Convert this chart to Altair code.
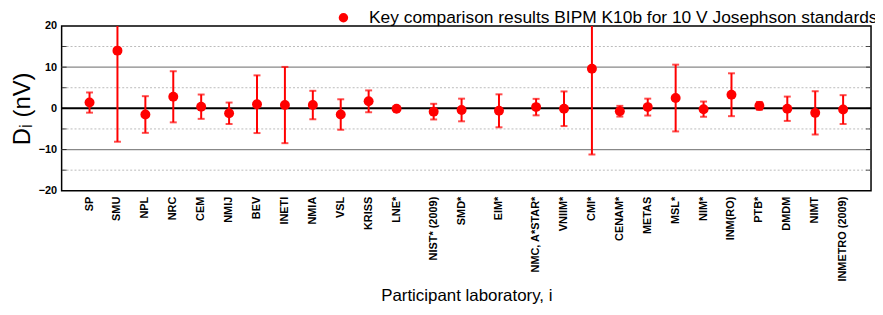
import altair as alt
import pandas as pd

labs = ["SP", "SMU", "NPL", "NRC", "CEM", "NMIJ", "BEV", "INETI", "NMIA", "VSL", "KRISS", "LNE*",
        "NIST* (2009)", "SMD*", "EIM*", "NMC, A*STAR*", "VNIIM*", "CMI*", "CENAM*", "METAS", "MSL*",
        "NIM*", "INM(RO)", "PTB*", "DMDM", "NIMT", "INMETRO (2009)"]
slot = [1, 2, 3, 4, 5, 6, 7, 8, 9, 10, 11, 12, 13.33, 14.33, 15.67, 17, 18, 19, 20, 21, 22, 23, 24, 25, 26, 27, 28]
D = [1.4, 14.0, -1.5, 2.8, 0.4, -1.2, 1.0, 0.8, 0.8, -1.5, 1.7, -0.1, -0.8, -0.4, -0.6, 0.3, -0.1, 9.6,
     -0.7, 0.3, 2.5, -0.2, 3.3, 0.6, -0.1, -1.1, -0.3]
U = [2.45, 22.1, 4.45, 6.2, 2.95, 2.6, 7.0, 9.25, 3.45, 3.7, 2.65, 0.2, 1.9, 2.75, 4.0, 2.0, 4.2, 20.8,
     1.3, 2.05, 8.1, 1.85, 5.2, 0.95, 2.95, 5.25, 3.5]
series = "Key comparison results BIPM K10b for 10 V Josephson standards"

minor_grid = [-15, -5, 5, 15]
major_grid = [-10, 10]
zero_line = [0]
tick_vals = [-15, -10, -5, 0, 5, 10, 15]
label_vals = [-20, -10, 0, 10, 20]
ymin, ymax = -20, 20

df = pd.DataFrame({"lab": labs, "slot": slot, "D": D, "U": U})
df["lo"] = [max(d - u, ymin) for d, u in zip(D, U)]
df["hi"] = [min(d + u, ymax) for d, u in zip(D, U)]
df["series"] = series
df["lo_cap"] = [d - u if d - u > ymin else None for d, u in zip(D, U)]
df["hi_cap"] = [d + u if d + u < ymax else None for d, u in zip(D, U)]

W, H = 815, 166
FONT = "Liberation Sans"

xs = alt.Scale(domain=[0, 29], nice=False, zero=False)
ys = alt.Scale(domain=[ymin, ymax], nice=False, zero=False)

base = alt.Chart(df)

x_enc = alt.X("slot:Q", scale=xs,
              axis=alt.Axis(labels=False, ticks=False, domain=False, grid=False,
                            title="Participant laboratory, i", titleFont=FONT,
                            titleFontSize=17, titleFontWeight="normal", titleColor="black",
                            titlePadding=97))

grid_minor = alt.Chart(pd.DataFrame({"v": minor_grid})).mark_rule(
    color="#bbbbbb", strokeDash=[2, 2], strokeWidth=1).encode(
    y=alt.Y("v:Q", scale=ys))
grid_major = alt.Chart(pd.DataFrame({"v": major_grid})).mark_rule(
    color="#888888", strokeWidth=1.2).encode(y=alt.Y("v:Q", scale=ys))
zero = alt.Chart(pd.DataFrame({"v": zero_line})).mark_rule(
    color="black", strokeWidth=2).encode(y=alt.Y("v:Q", scale=ys))

yaxis = alt.Axis(values=label_vals, grid=False, ticks=False,
                 domain=False, labelFont=FONT, labelFontSize=11, labelFontWeight="bold",
                 labelColor="black", labelPadding=5,
                 title="Dᵢ (nV)", titleFont=FONT, titleFontSize=24,
                 titleFontWeight="normal", titleColor="black", titlePadding=4)

errbars = base.mark_rule(color="#ff0000", strokeWidth=2, clip=True).encode(
    x=x_enc,
    y=alt.Y("lo:Q", scale=ys, axis=yaxis),
    y2="hi:Q")
cap_hi = base.mark_tick(color="#ff0000", thickness=2, size=7, orient="horizontal").encode(
    x=alt.X("slot:Q", scale=xs), y=alt.Y("hi_cap:Q", scale=ys))
cap_lo = base.mark_tick(color="#ff0000", thickness=2, size=7, orient="horizontal").encode(
    x=alt.X("slot:Q", scale=xs), y=alt.Y("lo_cap:Q", scale=ys))
points = base.mark_point(filled=True, opacity=1, size=100, shape="circle").encode(
    x=alt.X("slot:Q", scale=xs),
    y=alt.Y("D:Q", scale=ys),
    color=alt.Color("series:N", scale=alt.Scale(range=["#ff0000"]),
                    legend=alt.Legend(title=None, orient="none", legendX=275, legendY=-17,
                                      labelFont=FONT, labelFontSize=17.5, labelColor="black",
                                      labelOffset=17,
                                      symbolSize=90, symbolType="circle", labelLimit=700,
                                      symbolStrokeWidth=0)))

tdf = pd.DataFrame({"v": tick_vals})
right_ticks = alt.Chart(tdf).mark_tick(
    color="black", thickness=1, size=5, orient="horizontal", xOffset=-2.5).encode(
    y=alt.Y("v:Q", scale=ys), x=alt.value("width"))
left_ticks = alt.Chart(tdf).mark_tick(
    color="black", thickness=1, size=5, orient="horizontal", xOffset=2.5).encode(
    y=alt.Y("v:Q", scale=ys), x=alt.value(0))

labels = base.mark_text(angle=270, align="right", baseline="middle", font=FONT,
                        fontSize=11, fontWeight="bold", color="black", yOffset=6).encode(
    x=alt.X("slot:Q", scale=xs), y=alt.value("height"), text="lab:N")

chart = alt.layer(grid_minor, grid_major, zero, errbars, cap_hi, cap_lo, points,
                  right_ticks, left_ticks, labels).properties(
    width=W, height=H,
    autosize=alt.AutoSizeParams(type="none"),
    padding={"left": 54, "top": 17, "right": 4, "bottom": 115},
).configure_view(stroke="black", strokeWidth=1.5)

chart.save("out.html", embed_options={"renderer": "svg", "actions": False})
